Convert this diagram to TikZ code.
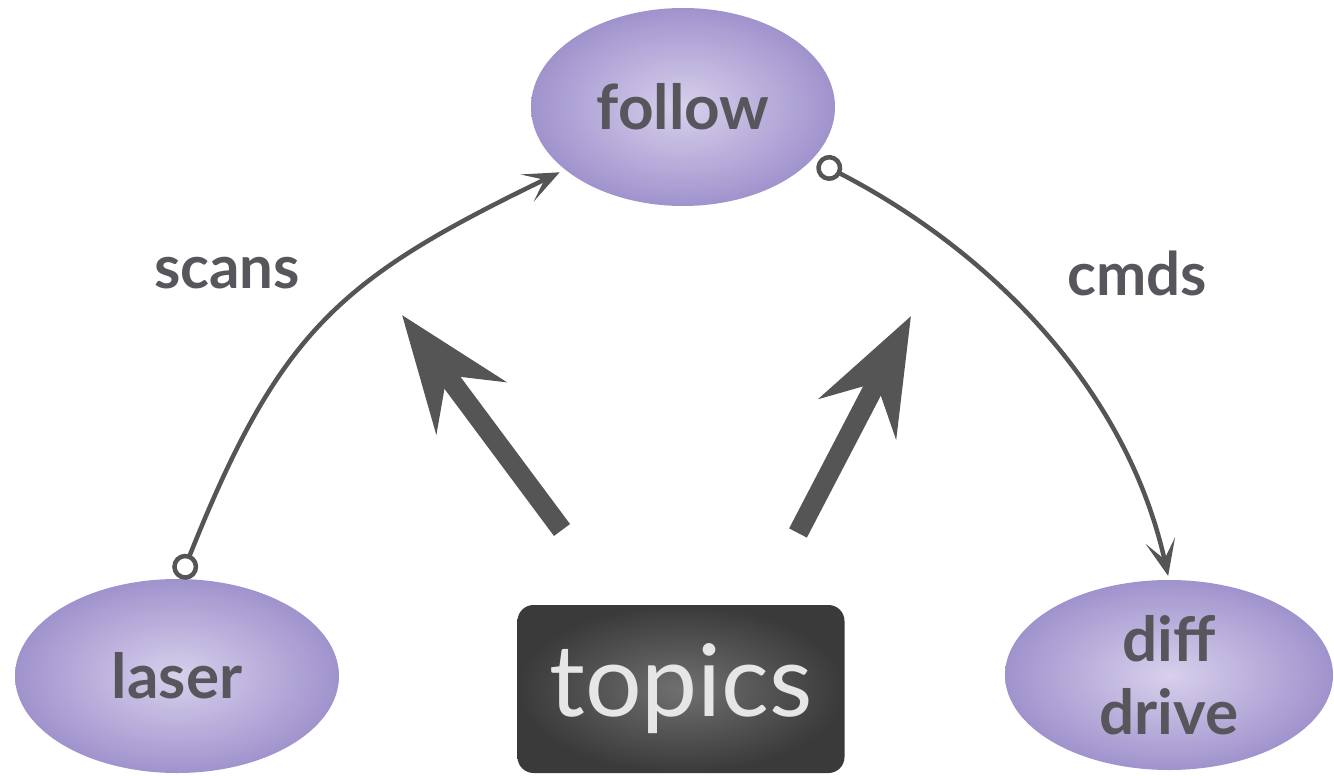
\documentclass[tikz,border=0pt]{standalone}
\usepackage{fontspec}
\setmainfont{Lato}
\usetikzlibrary{arrows.meta,shapes.geometric}
\definecolor{ink}{HTML}{58565C}
\definecolor{wirec}{HTML}{555555}
\definecolor{lavin}{HTML}{D8D0EC}
\definecolor{lavout}{HTML}{A093CD}
\definecolor{boxin}{HTML}{707070}
\definecolor{boxout}{HTML}{3A3A3A}
\definecolor{boxtext}{HTML}{E6E6E6}
\tikzset{
  proc/.style={ellipse, inner sep=0pt, shade, inner color=lavin, outer color=lavout,
    text=ink, font=\fontsize{62}{73}\selectfont\bfseries, align=center},
  topicbox/.style={rectangle, rounded corners=16pt, inner sep=0pt, shade,
    inner color=boxin, outer color=boxout, text=boxtext,
    minimum width=327pt, minimum height=168pt, font=\fontsize{100}{112}\selectfont},
  lbl/.style={text=ink, font=\fontsize{60}{70}\selectfont\bfseries, inner sep=0pt},
  wire/.style={draw=wirec, line width=4.5pt,
    {Circle[open, length=26pt, width=26pt]}-{Stealth[length=36pt, width=30pt, inset=19pt]}},
  bigarrow/.style={draw=wirec, line width=20pt,
    -{Stealth[length=115pt, width=86pt, inset=40pt]}}
}
\begin{document}
\begin{tikzpicture}[x=1pt, y=-1pt]
  \useasboundingbox (0,0) rectangle (1334,776);

  % processes
  \node[proc, minimum width=304pt, minimum height=198pt] (follow) at (683,107) {follow};
  \node[proc, minimum width=324pt, minimum height=194pt] (laser) at (177,676) {laser};
  \node[proc, minimum width=328pt, minimum height=190pt] (ddrive) at (1169,675) {diff\\drive};

  % topics box
  \node[topicbox] (topics) at (681,689) {topics};

  % topic connections
  \draw[wire, shorten >=6pt] (laser.88) .. controls (280,329) and (341,278) .. (follow.208);
  \draw[wire, shorten <=6pt, shorten >=4pt] (follow.-22) .. controls (987,249) and (1126,386) .. (ddrive.north);

  \node[lbl] (scans) at (227,273) {scans};
  \node[lbl] (cmds) at (1137,273) {cmds};

  % big arrows pointing up from the topics box
  \coordinate (ltail) at (562,530);
  \coordinate (lhead) at (402,315);
  \coordinate (rtail) at (798,533);
  \coordinate (rhead) at (911,316);
  \draw[bigarrow] (ltail) -- (lhead);
  \draw[bigarrow] (rtail) -- (rhead);
\end{tikzpicture}
\end{document}
